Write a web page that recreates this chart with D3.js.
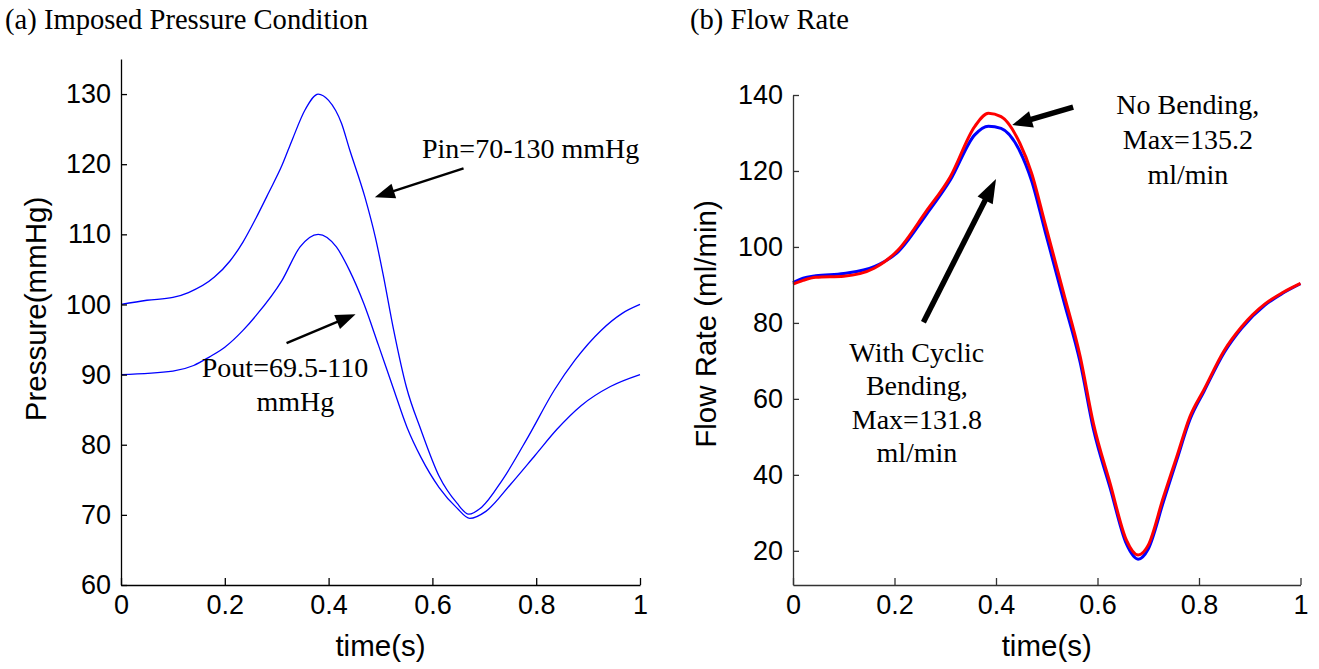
<!DOCTYPE html>
<html>
<head>
<meta charset="utf-8">
<script src="https://cdn.jsdelivr.net/npm/d3@7"></script>
<style>
  html, body { margin: 0; padding: 0; background: #fff; }
  svg { display: block; }
</style>
</head>
<body>
<svg id="chart" width="1319" height="669"></svg>
<script>
// (a) imposed pressure, time in s, pressure in mmHg
const timePin = [0, 0.05, 0.1, 0.13, 0.18, 0.21, 0.235, 0.26, 0.285, 0.31, 0.33, 0.355, 0.38, 0.4, 0.425, 0.44, 0.47, 0.49, 0.505, 0.525, 0.55, 0.578, 0.613, 0.647, 0.67, 0.695, 0.735, 0.785, 0.835, 0.875, 0.925, 0.965, 1];
const pin = [100, 100.6, 101.0, 101.7, 103.9, 106.2, 108.9, 112.3, 116, 119.8, 123.5, 127.8, 130, 129.1, 125.8, 122.2, 115.3, 109.6, 104.3, 96.5, 88.2, 82.1, 75.5, 71.7, 70.1, 71.1, 75, 81.2, 87.8, 92.1, 96.3, 98.7, 100];
const timePout = [0, 0.1, 0.14, 0.17, 0.2, 0.235, 0.26, 0.31, 0.345, 0.38, 0.415, 0.44, 0.468, 0.496, 0.524, 0.551, 0.578, 0.613, 0.647, 0.672, 0.703, 0.75, 0.798, 0.84, 0.887, 0.943, 1];
const pout = [90, 90.5, 91.3, 92.5, 93.9, 96.3, 98.4, 103.4, 108.2, 110, 108.2, 104.9, 100.1, 94.2, 88.2, 82.5, 78.2, 73.9, 71.0, 69.5, 70.5, 74.3, 78.5, 82.2, 85.6, 88.3, 90];

// (b) flow rate, ml/min
const timeFlow = [0, 0.02, 0.045, 0.1, 0.16, 0.207, 0.262, 0.31, 0.358, 0.385, 0.41, 0.447, 0.47, 0.497, 0.533, 0.566, 0.592, 0.625, 0.657, 0.68, 0.7, 0.73, 0.756, 0.782, 0.81, 0.85, 0.884, 0.93, 0.965, 1];
const flowNoBending = [90.2, 91.2, 92.0, 92.3, 94.4, 99.2, 109.3, 118.5, 131.7, 135.2, 134.3, 127.3, 119.5, 106, 88, 71.1, 53.5, 37.7, 22.8, 18.9, 21.5, 34.2, 44.7, 55.3, 62.5, 72.8, 79.0, 85.0, 88.0, 90.4];
const flowCyclic = [90.6, 91.8, 92.4, 93.0, 94.8, 98.7, 108.4, 117.6, 129.5, 131.8, 131.2, 125.2, 117.5, 104, 86, 69.5, 52, 36.5, 21.8, 17.8, 20.5, 33.0, 43.8, 54.5, 62.0, 72.3, 78.6, 84.7, 87.8, 90.3];

const timeTicks = [0, 0.2, 0.4, 0.6, 0.8, 1];
const pressureTicks = [60, 70, 80, 90, 100, 110, 120, 130];
const flowTicks = [20, 40, 60, 80, 100, 120, 140];

const sans = "'Liberation Sans', Arial, sans-serif";
const serif = "'Liberation Serif', 'Times New Roman', serif";

const svg = d3.select("#chart");

function txt(g, x, y, s, size, family, anchor) {
  return g.append("text")
    .attr("x", x).attr("y", y)
    .attr("text-anchor", anchor || "start")
    .style("font-family", family)
    .style("font-size", size + "px")
    .attr("fill", "#000")
    .text(s);
}

function arrow(g, x1, y1, x2, y2, width, headLen, headW) {
  const dx = x2 - x1, dy = y2 - y1;
  const len = Math.hypot(dx, dy);
  const ux = dx / len, uy = dy / len;
  const bx = x2 - ux * headLen, by = y2 - uy * headLen;
  g.append("line")
    .attr("x1", x1).attr("y1", y1)
    .attr("x2", bx + ux * 2).attr("y2", by + uy * 2)
    .attr("stroke", "#000").attr("stroke-width", width);
  g.append("path")
    .attr("d", `M${x2},${y2}L${bx - uy * headW / 2},${by + ux * headW / 2}L${bx + uy * headW / 2},${by - ux * headW / 2}Z`)
    .attr("fill", "#000");
}

function panel(cfg) {
  const g = svg.append("g");
  const x = d3.scaleLinear().domain([0, 1]).range(cfg.xRange);
  const y = d3.scaleLinear().domain(cfg.yDomain).range(cfg.yRange);

  // series
  const line = d3.line().curve(d3.curveMonotoneX);
  cfg.series.forEach(s => {
    g.append("path")
      .datum(s.t.map((t, i) => [x(t), y(s.v[i])]))
      .attr("fill", "none")
      .attr("stroke", s.color)
      .attr("stroke-width", s.width)
      .attr("stroke-linejoin", "round")
      .attr("d", line);
  });

  // axes, ticks inside like matlab
  const yAxis = g.append("g")
    .attr("transform", `translate(${cfg.xRange[0]},0)`)
    .call(d3.axisLeft(y).tickValues(cfg.yTicks).tickSize(-6).tickSizeOuter(0).tickPadding(10));
  const xAxis = g.append("g")
    .attr("transform", `translate(0,${cfg.yRange[0]})`)
    .call(d3.axisBottom(x).tickValues(timeTicks).tickFormat(d3.format("~g")).tickSize(-7).tickSizeOuter(0).tickPadding(10));

  [yAxis, xAxis].forEach(a => {
    a.select(".domain").attr("stroke", cfg.axisColor).attr("stroke-width", 1.3);
    a.selectAll(".tick line").attr("stroke", cfg.axisColor).attr("stroke-width", 1.3);
    a.selectAll(".tick text")
      .style("font-family", sans)
      .style("font-size", "27px")
      .attr("fill", "#000");
  });

  // axis titles
  txt(g, (cfg.xRange[0] + cfg.xRange[1]) / 2, 656, "time(s)", 29.5, sans, "middle");
  g.append("text")
    .attr("transform", `translate(${cfg.yLabelX},${cfg.yLabelY}) rotate(-90)`)
    .attr("text-anchor", "middle")
    .style("font-family", sans)
    .style("font-size", "29.5px")
    .text(cfg.yLabel);

  // panel title
  txt(svg, cfg.titleX, 29, cfg.title, 28.6, serif, "start");

  // annotations in data coordinates
  cfg.notes.forEach(n => {
    n.lines.forEach((s, i) => {
      txt(g, x(n.t[i]), y(n.v) + i * n.lh, s, 28, serif, n.anchor);
    });
  });
  cfg.arrows.forEach(a => {
    arrow(g, x(a.from[0]), y(a.from[1]), x(a.to[0]), y(a.to[1]), a.w, a.hl, a.hw);
  });
}

panel({
  xRange: [121, 640],
  yDomain: [60, 135],
  yRange: [585, 59],
  yTicks: pressureTicks,
  axisColor: "#000",
  yLabel: "Pressure(mmHg)",
  yLabelX: 46, yLabelY: 309,
  title: "(a) Imposed Pressure Condition",
  titleX: 5,
  series: [
    { t: timePin, v: pin, color: "#0000ff", width: 1.3 },
    { t: timePout, v: pout, color: "#0000ff", width: 1.3 }
  ],
  notes: [
    { t: [0.58], v: 120.9, lines: ["Pin=70-130 mmHg"], anchor: "start", lh: 0 },
    { t: [0.316, 0.336], v: 89.6, lines: ["Pout=69.5-110", "mmHg"], anchor: "middle", lh: 34 }
  ],
  arrows: [
    { from: [0.66, 119.4], to: [0.489, 115.3], w: 2.5, hl: 20, hw: 15 },
    { from: [0.319, 94.5], to: [0.452, 98.6], w: 2.5, hl: 20, hw: 15 }
  ]
});

panel({
  xRange: [793, 1300.5],
  yDomain: [11, 140],
  yRange: [585, 95],
  yTicks: flowTicks,
  axisColor: "#333",
  yLabel: "Flow Rate (ml/min)",
  yLabelX: 716, yLabelY: 324,
  title: "(b) Flow Rate",
  titleX: 690,
  series: [
    { t: timeFlow, v: flowCyclic, color: "#0000ff", width: 3 },
    { t: timeFlow, v: flowNoBending, color: "#ff0000", width: 3 }
  ],
  notes: [
    { t: [0.778, 0.778, 0.778], v: 135.1, lines: ["No Bending,", "Max=135.2", "ml/min"], anchor: "middle", lh: 35 },
    { t: [0.244, 0.244, 0.244, 0.244], v: 69.8, lines: ["With Cyclic", "Bending,", "Max=131.8", "ml/min"], anchor: "middle", lh: 33.5 }
  ],
  arrows: [
    { from: [0.552, 136.8], to: [0.432, 132.1], w: 5.5, hl: 20, hw: 17 },
    { from: [0.257, 80.2], to: [0.400, 117.9], w: 5.5, hl: 24, hw: 17 }
  ]
});
</script>
</body>
</html>
